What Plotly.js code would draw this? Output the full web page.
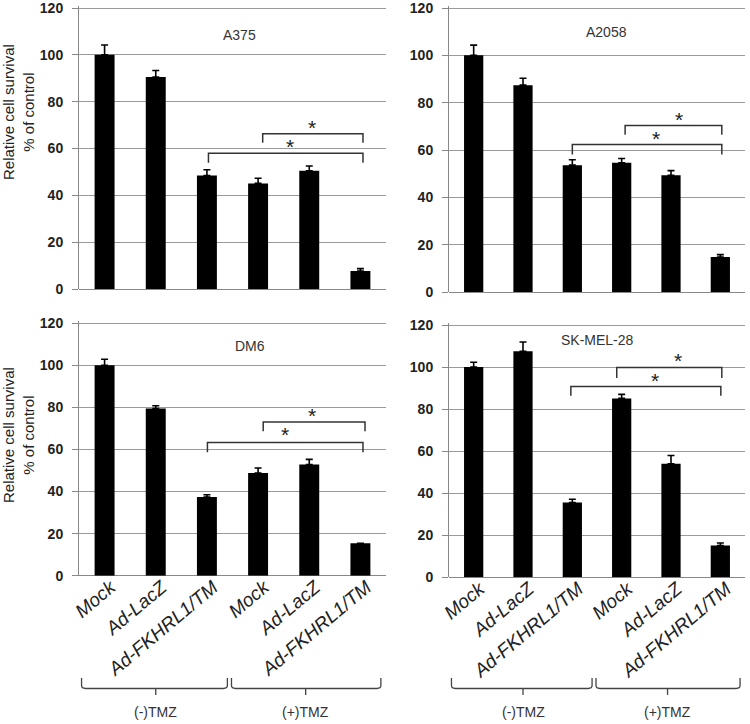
<!DOCTYPE html>
<html>
<head>
<meta charset="utf-8">
<script src="https://cdn.plot.ly/plotly-3.0.1.min.js"></script>
<style>html,body{margin:0;padding:0;background:#fff;}#chart{width:750px;height:724px;}</style>
</head>
<body>
<div id="chart"></div>
<script>
// ---- data ----
const categories = ["Mock", "Ad-LacZ", "Ad-FKHRL1/TM", "Mock", "Ad-LacZ", "Ad-FKHRL1/TM"];
const groupLabels = ["(-)TMZ", "(+)TMZ"];
const yTickVals = [0, 20, 40, 60, 80, 100, 120];

const a375Values = [100, 90.5, 48.5, 45.1, 50.5, 7.7];
const a375Errors = [4.2, 2.8, 2.4, 2.2, 2.0, 1.0];
const a2058Values = [100, 87.4, 53.6, 54.6, 49.3, 14.8];
const a2058Errors = [4.3, 2.9, 2.3, 1.8, 2.0, 1.0];
const dm6Values = [100, 79.5, 37.4, 48.8, 52.9, 15.4];
const dm6Errors = [2.9, 1.3, 1.1, 2.4, 2.4, 0];
const skmel28Values = [100, 107.5, 35.6, 85.1, 54.0, 15.1];
const skmel28Errors = [2.3, 4.4, 1.5, 1.9, 3.9, 1.2];

// significance brackets: [left, right, lineY, endY, starX, starY]
const a375Brackets = [[3.09, 5.05, 66.3, 62.5, 4.06, 69.0], [2.03, 5.05, 58.0, 53.9, 3.62, 61.0]];
const a2058Brackets = [[3.07, 5.03, 70.4, 66.4, 4.16, 72.8], [2.0, 5.03, 62.3, 58.1, 3.7, 64.7]];
const dm6Brackets = [[3.1, 5.09, 73.1, 68.7, 4.05, 76.1], [2.01, 5.05, 63.3, 58.7, 3.52, 66.9]];
const skmel28Brackets = [[2.9, 5.03, 99.8, 94.8, 4.14, 103.3], [1.97, 5.01, 90.8, 86.3, 3.68, 93.8]];

// ---- layout helpers ----
const W = 750, H = 724;
const px = x => x / W;
const py = y => 1 - y / H;
const xPos = categories.map((_, i) => i);
const yMax = 121;

const panels = [
  {name: "A375", values: a375Values, errors: a375Errors, brackets: a375Brackets,
   xd: [px(79), px(386)], yd: [py(289), py(5.66)], titleX: 2.64, titleY: 108.5, bottom: false},
  {name: "A2058", values: a2058Values, errors: a2058Errors, brackets: a2058Brackets,
   xd: [px(449), px(745)], yd: [py(292), py(5.63)], titleX: 2.7, titleY: 109.8, bottom: false},
  {name: "DM6", values: dm6Values, errors: dm6Errors, brackets: dm6Brackets,
   xd: [px(79), px(386)], yd: [py(575.7), py(321.2)], titleX: 2.84, titleY: 109, bottom: true},
  {name: "SK-MEL-28", values: skmel28Values, errors: skmel28Errors, brackets: skmel28Brackets,
   xd: [px(449), px(745)], yd: [py(577.3), py(322.9)], titleX: 2.5, titleY: 113, bottom: true}
];

const traces = [];
const shapes = [];
const annotations = [];
const layout = {
  width: W, height: H,
  margin: {l: 0, r: 0, t: 0, b: 0},
  paper_bgcolor: "#ffffff", plot_bgcolor: "#ffffff",
  showlegend: false,
  font: {family: "Arial, Liberation Sans, sans-serif", color: "#222"},
  shapes: shapes, annotations: annotations
};

panels.forEach((p, k) => {
  const n = k + 1;
  const xa = n === 1 ? "x" : "x" + n;
  const ya = n === 1 ? "y" : "y" + n;
  traces.push({
    type: "bar", x: xPos, y: p.values, xaxis: xa, yaxis: ya,
    width: 0.39, marker: {color: "#000000", line: {width: 0}},
    error_y: {type: "data", symmetric: false, array: p.errors, arrayminus: p.errors.map(() => 0),
              color: "#000000", thickness: 1.6, width: 3.5},
    hoverinfo: "skip"
  });
  layout["xaxis" + (n === 1 ? "" : n)] = {
    domain: p.xd, anchor: ya, range: [-0.5, 5.5], type: "linear",
    tickvals: xPos, ticktext: categories, showticklabels: p.bottom,
    tickangle: -40, tickfont: {size: 19, style: "italic", color: "#222"},
    ticklabelshift: 6, ticklabelstandoff: -4, ticklabeloverflow: "allow",
    ticks: "", showgrid: false, zeroline: false, showline: false, fixedrange: true
  };
  layout["yaxis" + (n === 1 ? "" : n)] = {
    domain: p.yd, anchor: xa, range: [0, yMax], tickmode: "array", tickvals: yTickVals,
    ticktext: yTickVals.map(v => "<b>" + v + "</b>"),
    showgrid: true, gridcolor: "#9a9a9a", gridwidth: 1,
    zeroline: true, zerolinecolor: "#888", zerolinewidth: 1,
    showline: true, linecolor: "#888", linewidth: 1,
    ticks: "outside", ticklen: 6, tickcolor: "#888", tickwidth: 1,
    ticklabelstandoff: 6, ticklabeloverflow: "allow",
    tickfont: {family: "Liberation Sans, Arial, sans-serif", size: 14, weight: 700, color: "#222"},
    fixedrange: true
  };
  annotations.push({xref: xa, yref: ya, x: p.titleX, y: p.titleY, text: p.name, showarrow: false,
    font: {size: 14, color: "#333"}, xanchor: "center", yanchor: "middle"});
  p.brackets.forEach(b => {
    const [l, r, ly, ey, sx, sy] = b;
    shapes.push({type: "path", xref: xa, yref: ya,
      path: `M ${l},${ey} L ${l},${ly} L ${r},${ly} L ${r},${ey}`,
      line: {color: "#333", width: 1.5}});
    annotations.push({xref: xa, yref: ya, x: sx, y: sy, text: "*", showarrow: false,
      font: {size: 21, color: "#222"}, xanchor: "center", yanchor: "middle"});
  });
  if (p.bottom) {
    // group braces under the tick labels
    const yTop = py(678), yLine = py(688.5), yTick = py(695);
    const groups = [[-0.45, 2.4, 1.0], [2.48, 5.4, 3.93]];
    groups.forEach((g, gi) => {
      const [a, b, c] = g;
      const d = 0.08;
      shapes.push({type: "path", xref: xa, yref: "paper",
        path: `M ${a},${yTop} L ${a},${yLine + 0.004} Q ${a},${yLine} ${a + d},${yLine} L ${b - d},${yLine} Q ${b},${yLine} ${b},${yLine + 0.004} L ${b},${yTop}`,
        line: {color: "#444", width: 1.3}});
      shapes.push({type: "line", xref: xa, yref: "paper", x0: c, x1: c, y0: yLine, y1: yTick,
        line: {color: "#444", width: 1.3}});
      annotations.push({xref: xa, yref: "paper", x: c, y: py(711.5), text: groupLabels[gi],
        showarrow: false, font: {size: 14, color: "#333"}, xanchor: "center", yanchor: "middle"});
    });
  }
});

// y-axis titles (left column only)
[[112], [435]].forEach(v => {
  annotations.push({xref: "paper", yref: "paper", x: px(18), y: py(v[0]), textangle: -90,
    text: "Relative cell survival<br>% of control", showarrow: false,
    font: {size: 15, color: "#222"}, xanchor: "center", yanchor: "middle"});
});

Plotly.newPlot("chart", traces, layout, {staticPlot: true, displayModeBar: false});
</script>
</body>
</html>
